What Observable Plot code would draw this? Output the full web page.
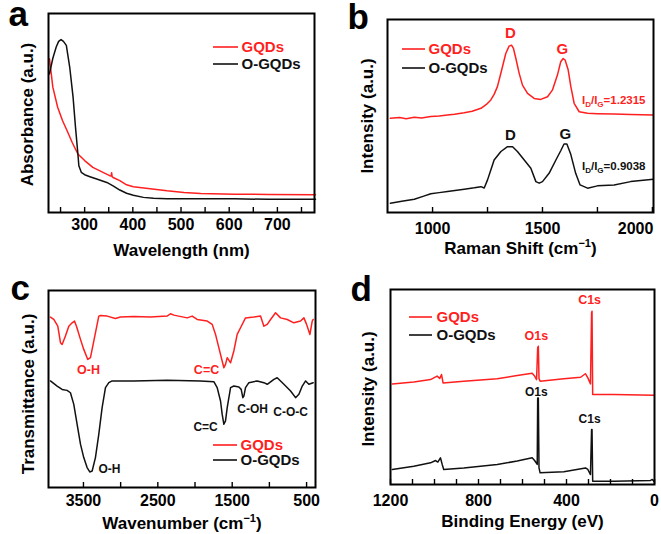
<!DOCTYPE html>
<html><head><meta charset="utf-8">
<script src="https://cdn.jsdelivr.net/npm/d3@7"></script>
<script src="https://cdn.jsdelivr.net/npm/@observablehq/plot@0.6"></script>
<style>
body{margin:0;background:#fff;}
#fig{position:relative;width:661px;height:534px;overflow:hidden;background:#fff;}
#fig svg{position:absolute;max-width:none;}
</style></head><body><div id="fig"></div>
<script>
// ---------- data ----------
const seriesNames = ["GQDs", "O-GQDs"];

// (a) UV-vis absorbance
const aGQDsX = [227, 234, 244, 254, 265, 274, 279, 286, 300, 317, 338, 352, 355, 356, 357, 359, 373, 387, 401, 436, 471, 506, 541, 611, 681, 779];
const aGQDsY = [0.773, 0.630, 0.529, 0.462, 0.403, 0.353, 0.328, 0.294, 0.261, 0.227, 0.202, 0.185, 0.183, 0.200, 0.180, 0.176, 0.160, 0.139, 0.129, 0.119, 0.109, 0.101, 0.096, 0.092, 0.091, 0.089];
const aOGQDsX = [227, 234, 241, 246, 251, 256, 262, 269, 276, 281, 286, 288, 293, 300, 311, 325, 346, 359, 373, 387, 401, 422, 443, 471, 541, 611, 681, 779];
const aOGQDsY = [0.697, 0.775, 0.832, 0.860, 0.869, 0.860, 0.840, 0.731, 0.580, 0.429, 0.294, 0.235, 0.202, 0.190, 0.180, 0.168, 0.151, 0.134, 0.113, 0.097, 0.087, 0.076, 0.071, 0.069, 0.069, 0.069, 0.066, 0.066];
const aMajorTicks = [300, 400, 500, 600, 700];
const aMinorTicks = [250, 300, 350, 400, 450, 500, 550, 600, 650, 700, 750];

// (b) Raman
const bGQDsX = [808, 850, 880, 917, 950, 992, 1030, 1068, 1100, 1144, 1180, 1220, 1245, 1265, 1280, 1295, 1308, 1318, 1333, 1348, 1359, 1368, 1379, 1394, 1409, 1432, 1462, 1492, 1523, 1545, 1568, 1583, 1594, 1603, 1617, 1629, 1644, 1667, 1705, 1750, 1826, 1900, 2004];
const bGQDsY = [0.488, 0.492, 0.486, 0.493, 0.490, 0.497, 0.500, 0.505, 0.509, 0.517, 0.525, 0.540, 0.560, 0.583, 0.612, 0.652, 0.710, 0.755, 0.824, 0.862, 0.867, 0.850, 0.798, 0.721, 0.660, 0.617, 0.591, 0.586, 0.600, 0.634, 0.712, 0.781, 0.798, 0.790, 0.738, 0.652, 0.566, 0.522, 0.514, 0.512, 0.510, 0.508, 0.505];
const bOGQDsX = [808, 860, 917, 960, 992, 1030, 1068, 1144, 1190, 1220, 1235, 1250, 1265, 1280, 1311, 1341, 1364, 1386, 1417, 1447, 1470, 1485, 1500, 1530, 1561, 1583, 1598, 1611, 1629, 1651, 1671, 1705, 1750, 1826, 1901, 2004];
const bOGQDsY = [0.048, 0.058, 0.069, 0.085, 0.097, 0.103, 0.109, 0.121, 0.128, 0.134, 0.127, 0.169, 0.220, 0.272, 0.316, 0.341, 0.341, 0.316, 0.272, 0.229, 0.160, 0.152, 0.160, 0.203, 0.272, 0.320, 0.355, 0.355, 0.300, 0.203, 0.143, 0.126, 0.138, 0.143, 0.160, 0.172];
const bMajorTicks = [1000, 1500];
const bEdgeTicks = [2000];
const bMinorTicks = [1000, 1250, 1500, 1750, 2000];
const bRedNotes = ["D", "G", "I_{D}/I_{G}=1.2315"];
const bBlackNotes = ["D", "G", "I_{D}/I_{G}=0.9038"];

// (c) FTIR
const cGQDsX = [3944, 3899, 3845, 3809, 3787, 3742, 3697, 3652, 3621, 3594, 3540, 3496, 3442, 3406, 3361, 3316, 3294, 3271, 3182, 3070, 3002, 2823, 2599, 2375, 2330, 2285, 2105, 2038, 1971, 1836, 1769, 1724, 1679, 1635, 1612, 1590, 1567, 1522, 1478, 1433, 1388, 1321, 1209, 1119, 1074, 1029, 984, 917, 850, 760, 671, 581, 536, 500, 455, 424, 411];
const cGQDsY = [0.865, 0.853, 0.819, 0.735, 0.726, 0.769, 0.819, 0.836, 0.845, 0.819, 0.752, 0.701, 0.650, 0.659, 0.743, 0.828, 0.870, 0.873, 0.870, 0.858, 0.865, 0.868, 0.865, 0.870, 0.882, 0.875, 0.861, 0.870, 0.853, 0.845, 0.828, 0.777, 0.709, 0.642, 0.608, 0.625, 0.659, 0.633, 0.693, 0.777, 0.811, 0.861, 0.865, 0.870, 0.819, 0.828, 0.853, 0.887, 0.861, 0.853, 0.836, 0.845, 0.861, 0.828, 0.777, 0.845, 0.853];
const cOGQDsX = [3944, 3854, 3787, 3720, 3675, 3630, 3585, 3540, 3496, 3451, 3415, 3383, 3339, 3294, 3249, 3204, 3159, 3114, 2823, 2375, 1926, 1747, 1702, 1657, 1635, 1612, 1590, 1567, 1522, 1478, 1410, 1379, 1357, 1343, 1321, 1276, 1164, 1074, 1029, 939, 895, 805, 715, 648, 603, 558, 513, 469, 411];
const cOGQDsY = [0.541, 0.515, 0.498, 0.493, 0.481, 0.422, 0.321, 0.220, 0.152, 0.101, 0.079, 0.084, 0.152, 0.270, 0.405, 0.507, 0.532, 0.541, 0.541, 0.544, 0.541, 0.537, 0.507, 0.439, 0.372, 0.321, 0.338, 0.405, 0.507, 0.515, 0.510, 0.498, 0.456, 0.464, 0.507, 0.532, 0.541, 0.532, 0.524, 0.549, 0.557, 0.524, 0.490, 0.456, 0.473, 0.515, 0.541, 0.524, 0.532];
const cMajorTicks = [3500, 2500, 1500, 500];
const cMinorTicks = [3500, 3000, 2500, 2000, 1500, 1000, 500];
const cRedNotes = ["O-H", "C=C"];
const cBlackNotes = ["C=C", "C-OH", "C-O-C", "O-H"];

// (d) XPS survey
const dGQDsX = [1192, 1094, 1018, 988, 976, 968, 961, 867, 715, 624, 556, 545, 536, 531, 528, 525, 520, 412, 336, 314, 303, 291, 286, 284, 281, 276, 185, 3];
const dGQDsY = [0.516, 0.526, 0.538, 0.556, 0.544, 0.564, 0.521, 0.530, 0.542, 0.559, 0.571, 0.556, 0.538, 0.701, 0.709, 0.544, 0.530, 0.542, 0.550, 0.568, 0.547, 0.516, 0.880, 0.889, 0.462, 0.462, 0.462, 0.458];
const dOGQDsX = [1192, 1094, 1018, 995, 985, 973, 965, 958, 867, 715, 624, 556, 545, 533, 531, 528, 525, 520, 412, 314, 303, 291, 286, 284, 281, 276, 185, 18, 10, 3];
const dOGQDsY = [0.077, 0.094, 0.111, 0.123, 0.115, 0.137, 0.103, 0.077, 0.085, 0.103, 0.120, 0.137, 0.123, 0.103, 0.444, 0.444, 0.085, 0.060, 0.065, 0.085, 0.077, 0.051, 0.282, 0.282, 0.017, 0.017, 0.017, 0.021, 0.026, 0.017];
const dMajorTicks = [1200, 800, 400, 0];
const dMinorTicks = [1200, 1100, 1000, 900, 800, 700, 600, 500, 400, 300, 200, 100, 0];
const dRedNotes = ["O1s", "C1s"];
const dBlackNotes = ["O1s", "C1s"];

// ---------- drawing ----------
const RED = "#ff1f1f", BLACK = "#111";
const FONT = "'Liberation Sans', Arial, Helvetica, sans-serif";
const rows = (xs, ys) => xs.map((x, i) => ({x, y: ys[i]}));
const notes = (labels, xs, ys, sizes) => labels.map((t, i) => ({t, x: xs[i], y: ys[i], s: sizes[i]}));

function richify(svg) {
  d3.select(svg).selectAll("text").each(function () {
    const t = this.textContent;
    if (!/[\^_]\{/.test(t)) return;
    let n = this, fs = null;
    while (n && n.getAttribute && !(fs = n.getAttribute("font-size"))) n = n.parentNode;
    fs = parseFloat(fs) || 12;
    const parts = t.split(/(\^\{[^}]*\}|_\{[^}]*\})/).filter(s => s.length);
    const el = d3.select(this);
    el.text("");
    let off = 0;
    for (const p of parts) {
      const kind = p.startsWith("^{") ? "sup" : p.startsWith("_{") ? "sub" : "n";
      const txt = kind === "n" ? p : p.slice(2, -1);
      const target = kind === "sup" ? -0.42 * fs : kind === "sub" ? 0.22 * fs : 0;
      const ts = el.append("tspan").text(txt).attr("dy", target - off);
      if (kind !== "n") ts.attr("font-size", (kind === "sup" ? 0.65 : 0.7) * fs);
      off = target;
    }
  });
}

function panel(o) {
  const W = 330, H = 267;
  const innerH = H - o.mt - o.mb;
  const bold = {fontWeight: "bold", fontFamily: FONT};
  const mid = {lineAnchor: "middle"};
  const marks = [
    Plot.line(rows(o.redX, o.redY), {x: "x", y: "y", stroke: RED, strokeWidth: 1.5}),
    Plot.line(rows(o.blkX, o.blkY), {x: "x", y: "y", stroke: BLACK, strokeWidth: 1.5}),
    Plot.frame({stroke: "#000", strokeWidth: 2}),
    Plot.tickX(o.minor, {x: d => d, insetTop: innerH - 5, stroke: "#000", strokeWidth: 1.4}),
    Plot.text(o.major, {x: d => d, text: d => String(d), frameAnchor: "bottom", dy: o.tickDy, textAnchor: "middle", ...mid, fontSize: 16, fill: "#000", ...bold}),
    Plot.text(o.edge || [], {x: d => d, text: d => String(d), frameAnchor: "bottom", dy: o.tickDy, dx: 1, textAnchor: "end", ...mid, fontSize: 16, fill: "#000", ...bold}),
    Plot.text([o.xTitle], {text: d => d, frameAnchor: "bottom", dy: o.titleDy, textAnchor: "middle", ...mid, fontSize: 17, fill: "#000", ...bold}),
    Plot.text([o.yTitle], {text: d => d, frameAnchor: "left", dx: o.yDx, dy: o.yDy, rotate: -90, textAnchor: "middle", ...mid, fontSize: 17, fill: "#000", ...bold}),
    Plot.text([o.letter], {text: d => d, frameAnchor: "top-left", dx: o.letDx, dy: o.letDy, textAnchor: "start", lineAnchor: "bottom", fontSize: 35, fill: "#000", ...bold}),
    Plot.text([seriesNames[0]], {text: d => d, frameAnchor: "top-left", dx: o.leg.tx, dy: o.leg.y1, textAnchor: "start", ...mid, fontSize: 15, fill: RED, ...bold}),
    Plot.text([seriesNames[1]], {text: d => d, frameAnchor: "top-left", dx: o.leg.tx, dy: o.leg.y2, textAnchor: "start", ...mid, fontSize: 15, fill: BLACK, ...bold})
  ];
  if (o.redNotes) marks.push(Plot.text(o.redNotes, {x: "x", y: "y", text: "t", fontSize: "s", textAnchor: "middle", ...mid, fill: RED, ...bold}));
  if (o.blkNotes) marks.push(Plot.text(o.blkNotes, {x: "x", y: "y", text: "t", fontSize: "s", textAnchor: "middle", ...mid, fill: BLACK, ...bold}));
  const svg = Plot.plot({
    width: W, height: H,
    marginLeft: o.ml, marginRight: o.mr, marginTop: o.mt, marginBottom: o.mb,
    x: {domain: o.xDomain, axis: null},
    y: {domain: [0, 1], axis: null},
    style: {fontFamily: FONT, background: "transparent", overflow: "visible"},
    marks
  });
  const g = d3.select(svg).append("g");
  [[o.leg.y1, RED], [o.leg.y2, BLACK]].forEach(([y, c]) => {
    g.append("line").attr("x1", o.ml + o.leg.lx1).attr("x2", o.ml + o.leg.lx2)
      .attr("y1", o.mt + y).attr("y2", o.mt + y).attr("stroke", c).attr("stroke-width", 1.6);
  });
  richify(svg);
  svg.style.left = o.left + "px";
  svg.style.top = o.top + "px";
  document.getElementById("fig").appendChild(svg);
}

panel({
  left: 0, top: 0, ml: 48, mr: 16, mt: 13, mb: 55, xDomain: [225, 777],
  redX: aGQDsX, redY: aGQDsY, blkX: aOGQDsX, blkY: aOGQDsY,
  major: aMajorTicks, minor: aMinorTicks, tickDy: 12, xTitle: "Wavelength (nm)", titleDy: 38,
  yTitle: "Absorbance (a.u.)", yDx: -21, yDy: 1.5, letter: "a", letDx: -40, letDy: 12,
  leg: {lx1: 165, lx2: 190, tx: 193, y1: 34, y2: 51}
});

panel({
  left: 330, top: 0, ml: 57, mr: 7, mt: 19, mb: 55, xDomain: [795, 2005],
  redX: bGQDsX, redY: bGQDsY, blkX: bOGQDsX, blkY: bOGQDsY,
  major: bMajorTicks, edge: bEdgeTicks, minor: bMinorTicks, tickDy: 16, xTitle: "Raman Shift (cm^{−1})", titleDy: 36,
  yTitle: "Intensity (a.u.)", yDx: -20, yDy: 0, letter: "b", letDx: -40, letDy: 9,
  leg: {lx1: 15, lx2: 38, tx: 41, y1: 30, y2: 49},
  redNotes: notes(bRedNotes, [1354, 1590, 1824], [0.927, 0.845, 0.580], [15, 15, 11.5]),
  blkNotes: notes(bBlackNotes, [1354, 1604, 1824], [0.400, 0.405, 0.238], [15, 15, 11.5])
});

panel({
  left: 0, top: 267, ml: 48, mr: 15, mt: 23, mb: 47, xDomain: [3970, 380],
  redX: cGQDsX, redY: cGQDsY, blkX: cOGQDsX, blkY: cOGQDsY,
  major: cMajorTicks, minor: cMinorTicks, tickDy: 13.5, xTitle: "Wavenumber (cm^{−1})", titleDy: 36,
  yTitle: "Transmittance (a.u.)", yDx: -20, yDy: 5, letter: "c", letDx: -38, letDy: 9,
  leg: {lx1: 165, lx2: 189, tx: 192, y1: 155, y2: 170},
  redNotes: notes(cRedNotes, [3432, 1845], [0.594, 0.594], [12.5, 12.5]),
  blkNotes: notes(cBlackNotes, [1858, 1226, 715, 3150], [0.305, 0.396, 0.381, 0.091], [12, 12, 12, 12])
});

panel({
  left: 330, top: 267, ml: 60, mr: 6, mt: 22, mb: 50, xDomain: [1200, 0],
  redX: dGQDsX, redY: dGQDsY, blkX: dOGQDsX, blkY: dOGQDsY,
  major: dMajorTicks, minor: dMinorTicks, tickDy: 16.5, xTitle: "Binding Energy (eV)", titleDy: 37,
  yTitle: "Intensity (a.u.)", yDx: -22, yDy: 2, letter: "d", letDx: -40, letDy: 11,
  leg: {lx1: 19, lx2: 42, tx: 46, y1: 28, y2: 46},
  redNotes: notes(dRedNotes, [537, 295], [0.764, 0.944], [12.5, 12.5]),
  blkNotes: notes(dBlackNotes, [537, 295], [0.472, 0.333], [12, 12])
});
</script>
</body></html>
